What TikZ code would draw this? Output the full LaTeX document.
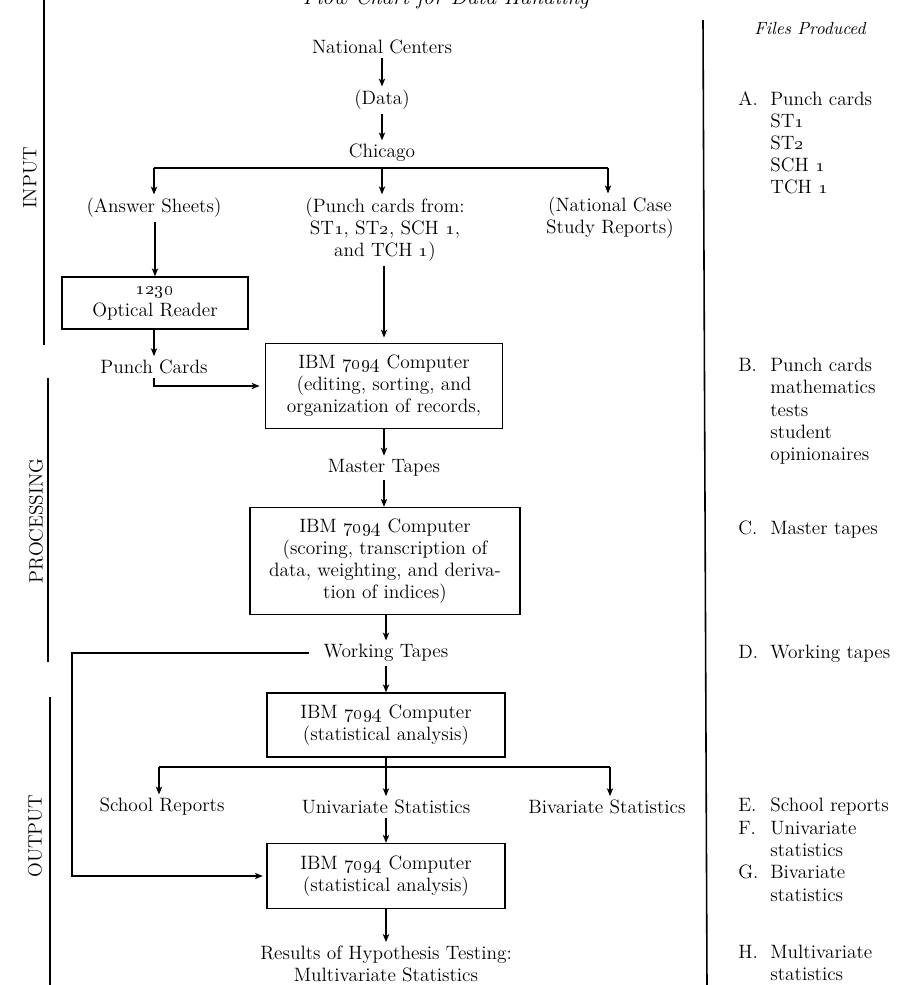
\documentclass[tikz,border=0pt]{standalone}
\usetikzlibrary{arrows,arrows.meta}

\begin{document}
\begin{tikzpicture}[x=0.02cm,y=-0.02cm,
  every node/.style={font=\fontsize{11}{12.6}\selectfont},
  txt/.style={inner sep=2pt,align=center},
  box/.style={draw,line width=0.8pt,align=center,inner sep=2pt},
  arr/.style={line width=0.7pt,-{Stealth[length=4.5pt,width=3.6pt,inset=1.2pt]}},
  ln/.style={line width=0.7pt},
  bar/.style={line width=0.9pt},
  files/.style={anchor=north west,align=left,inner sep=0pt}]
\path[use as bounding box,clip] (0,0) rectangle (906,985);
% heading
\node[anchor=base,font=\fontsize{12.5}{14}\selectfont\itshape] (title) at (446,4) {Flow Chart for Data Handling};
\node[font=\fontsize{10}{12}\selectfont\itshape] (fprod) at (810,28) {Files Produced};
% stage bars
\draw[bar] (44,0) -- (44,345);
\draw[bar] (48,378) -- (48,662);
\draw[bar] (50,697) -- (50,985);
\draw[bar] (703,20) -- (707,985);
\node[rotate=90] (lin) at (30,178) {INPUT};
\node[rotate=90] (lproc) at (36,521) {PROCESSING};
\node[rotate=90] (lout) at (35,836) {OUTPUT};
% input
\node[txt] (ncent) at (382,47) {National Centers};
\node[txt] (data) at (382,100) {(Data)};
\node[txt] (chic) at (382,153) {Chicago};
\coordinate (brL) at (154,168);
\coordinate (brR) at (608,168);
\node[txt] (ansr) at (154,208) {(Answer Sheets)};
\node[txt] (pcfrom) at (385,230) {(Punch cards from:\\ST\oldstylenums{1}, ST\oldstylenums{2}, SCH \oldstylenums{1},\\and TCH \oldstylenums{1})};
\node[txt] (ncase) at (610,218) {(National Case\\Study Reports)};
\node[box,minimum width=3.72cm,minimum height=1.04cm] (optrd) at (155,303) {\oldstylenums{1230}\\Optical Reader};
\node[txt] (pcards) at (154,367) {Punch Cards};
% processing
\node[box,minimum width=4.74cm,minimum height=1.7cm] (ibm1) at (384,386) {IBM \oldstylenums{7094} Computer\\(editing, sorting, and\\organization of records,};
\node[txt] (master) at (384,468) {Master Tapes};
\node[box,minimum width=5.4cm,minimum height=2.14cm] (ibm2) at (385,561) {IBM \oldstylenums{7094} Computer\\(scoring, transcription of\\data, weighting, and deriva-\\tion of indices)};
\node[txt] (work) at (386,653) {Working Tapes};
% output
\node[box,minimum width=4.76cm,minimum height=1.28cm] (ibm3) at (386,725) {IBM \oldstylenums{7094} Computer\\(statistical analysis)};
\coordinate (brA) at (159,767);
\coordinate (brC) at (610,767);
\node[txt] (school) at (162,807) {School Reports};
\node[txt] (univ) at (386,807) {Univariate Statistics};
\node[txt] (bivar) at (607,807) {Bivariate Statistics};
\node[box,minimum width=4.76cm,minimum height=1.3cm] (ibm4) at (386,876) {IBM \oldstylenums{7094} Computer\\(statistical analysis)};
\node[txt] (result) at (386,964) {Results of Hypothesis Testing:\\Multivariate Statistics};
\coordinate (loop) at (72,655);
% connectors
\draw[arr] (ncent) -- (data);
\draw[arr] (data) -- (chic);
\draw[ln] (brL) -- (brR);
\draw[arr] (brL) -- (brL |- ansr.north);
\draw[arr] (chic.south |- brL) -- (chic.south |- pcfrom.north);
\draw[arr] (brR) -- (brR |- ncase.north);
\draw[arr] (ansr.south -| optrd.north) -- (optrd.north);
\draw[arr,shorten >=3pt] (ibm1.north |- pcfrom.south) -- (ibm1.north);
\draw[arr] (optrd.south -| pcards.north) -- (pcards.north);
\draw[arr,shorten >=3pt] (pcards.south) |- (ibm1.west);
\draw[arr] (ibm1) -- (master);
\draw[arr] (master) -- (master.south |- ibm2.north);
\draw[arr] (ibm2.south -| work.north) -- (work.north);
\draw[arr] (work) -- (ibm3);
\draw[arr,shorten <=6pt,shorten >=2pt] (work.west) -- (work.west -| loop) |- (ibm4.west);
\draw[ln] (ibm3.south) -- (ibm3.south |- brA);
\draw[ln] (brA) -- (brC);
\draw[arr] (brA) -- (brA |- school.north);
\draw[arr] (ibm3.south |- brA) -- (univ);
\draw[arr] (brC) -- (brC |- bivar.north);
\draw[arr] (univ) -- (ibm4);
\draw[arr] (ibm4) -- (result);
% files produced
\node[files] (fA) at (738,91) {\makebox[0.64cm][l]{A.}Punch cards\\\hspace*{0.64cm}ST\oldstylenums{1}\\\hspace*{0.64cm}ST\oldstylenums{2}\\\hspace*{0.64cm}SCH \oldstylenums{1}\\\hspace*{0.64cm}TCH \oldstylenums{1}};
\node[files] (fB) at (738,358) {\makebox[0.64cm][l]{B.}Punch cards\\\hspace*{0.64cm}mathematics\\\hspace*{0.64cm}tests\\\hspace*{0.64cm}student\\\hspace*{0.64cm}opinionaires};
\node[files] (fC) at (738,521) {\makebox[0.64cm][l]{C.}Master tapes};
\node[files] (fD) at (738,645) {\makebox[0.64cm][l]{D.}Working tapes};
\node[files] (fE) at (738,798) {\makebox[0.64cm][l]{E.}School reports};
\node[files] (fF) at (738,821) {\makebox[0.64cm][l]{F.}Univariate\\\hspace*{0.64cm}statistics};
\node[files] (fG) at (738,865) {\makebox[0.64cm][l]{G.}Bivariate\\\hspace*{0.64cm}statistics};
\node[files] (fH) at (738,945) {\makebox[0.64cm][l]{H.}Multivariate\\\hspace*{0.64cm}statistics};
\end{tikzpicture}
\end{document}
